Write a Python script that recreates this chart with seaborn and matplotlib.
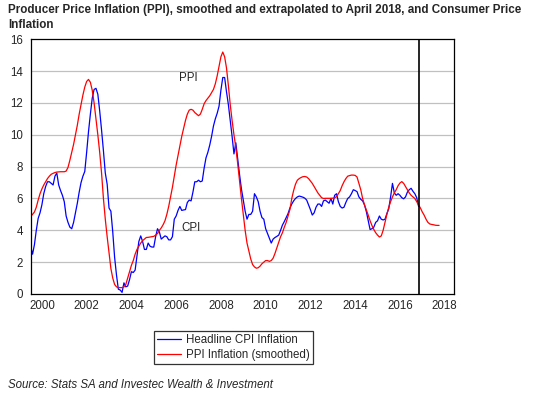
import numpy as np
import pandas as pd
import seaborn as sns
import matplotlib.pyplot as plt

# monthly headline CPI inflation (%), Jan 2000 onwards
cpi = [2.97, 2.5, 3.1, 4.0, 4.75, 5.1, 5.6, 6.3, 6.75, 7.05,
       7.05, 6.95, 6.85, 7.4, 7.6, 6.85, 6.5, 6.2, 5.8, 4.9,
       4.5, 4.2, 4.1, 4.5, 5.1, 5.7, 6.4, 7.0, 7.4, 7.7,
       8.9, 10.2, 11.3, 12.3,
       12.85, 12.92, 12.55, 11.5, 10.3, 9.0, 7.6, 6.9, 5.4, 5.2,
       3.9, 2.3, 1.2, 0.3, 0.25, 0.1, 0.7, 0.45, 0.5, 0.9,
       1.4, 1.35, 1.5, 2.4, 3.3, 3.65, 3.3, 2.8, 2.8, 3.2,
       3.0, 2.95, 2.95, 3.6, 4.1, 3.9, 3.45, 3.55, 3.65, 3.6,
       3.4, 3.4, 3.6, 4.7, 4.9, 5.25, 5.5, 5.25, 5.28, 5.3,
       5.75, 5.9, 5.85, 6.4, 7.05, 7.05, 7.15, 7.05, 7.1, 7.9,
       8.55, 8.9, 9.35, 9.9, 10.55, 11.0, 11.35, 11.8, 12.8, 13.6,
       13.6, 12.7, 11.9, 10.9, 9.9, 8.8, 9.5, 8.5, 7.5, 6.6,
       5.9, 5.2, 4.7, 5.0, 5.0, 5.2, 6.3,
       6.1, 5.8, 5.2, 4.8, 4.7, 4.1, 3.8, 3.5, 3.2, 3.45,
       3.55, 3.62, 3.7, 4.0, 4.33, 4.55, 4.8, 5.05, 5.4, 5.65,
       5.85, 6.0, 6.1, 6.15, 6.12, 6.08, 6.02, 5.9, 5.6, 5.3,
       4.96, 5.1, 5.45, 5.65, 5.65, 5.5, 5.85, 5.9, 5.8,
       5.7, 6.0, 5.65, 6.2, 6.3, 5.8, 5.5, 5.4, 5.45, 5.75,
       6.0, 6.1, 6.3, 6.55, 6.5, 6.43, 6.1, 5.95, 5.85, 5.6,
       5.17, 4.6, 4.05, 4.1, 4.2, 4.5, 4.6, 4.9, 4.7, 4.65, 4.7, 5.05, 5.35,
       6.1, 6.95, 6.35, 6.2, 6.3, 6.2, 6.05, 5.98, 6.1, 6.4, 6.55, 6.64, 6.45, 6.3, 6.05, 5.5]

# smoothed PPI inflation (%), Jan 2000 to Apr 2018
ppi = [4.86, 5.0, 5.15, 5.45, 5.9, 6.3, 6.6, 6.85, 7.05, 7.25,
       7.4, 7.52, 7.58, 7.63, 7.66, 7.67, 7.68, 7.68, 7.68, 7.72,
       7.95, 8.4, 8.9, 9.4, 10.0, 10.6, 11.3, 11.9, 12.5, 13.0,
       13.35, 13.48, 13.3, 12.8,
       12.0, 11.0, 10.0, 8.9, 7.6, 6.0, 4.7, 3.6, 2.6, 1.6,
       1.0, 0.6, 0.45, 0.4, 0.4, 0.4, 0.45, 0.6, 1.0, 1.4,
       1.8, 2.1, 2.5, 2.8, 3.0, 3.2, 3.35, 3.45, 3.55, 3.56,
       3.58, 3.6, 3.62, 3.7, 3.8, 4.0, 4.15, 4.35, 4.6, 5.0,
       5.5, 6.1, 6.7, 7.4, 8.1, 8.7, 9.3, 9.9, 10.4, 10.9,
       11.3, 11.55, 11.6, 11.55, 11.4, 11.3, 11.2, 11.3, 11.6, 11.95,
       12.15, 12.3, 12.45, 12.65, 12.85, 13.2, 13.7, 14.3, 14.9, 15.2,
       14.9, 14.2, 13.1, 11.9, 10.9, 10.0, 9.2, 8.2, 7.1, 6.0,
       5.0, 4.0, 3.2, 2.7, 2.2, 1.85, 1.7, 1.62, 1.65, 1.75,
       1.9, 2.0, 2.1, 2.1, 2.05, 2.1, 2.25, 2.55, 2.9, 3.25,
       3.6, 3.85, 4.2, 4.5, 4.9, 5.3, 6.0, 6.5, 6.9, 7.15,
       7.25, 7.32, 7.37, 7.38, 7.35, 7.25, 7.1, 6.95, 6.75, 6.55,
       6.35, 6.2, 6.05, 6.0, 6.01, 6.01, 6.01, 6.01, 6.02, 6.05,
       6.11, 6.3, 6.5, 6.8, 7.05, 7.25, 7.4, 7.44, 7.47, 7.47,
       7.45, 7.35, 6.95, 6.55, 6.0, 5.6, 5.28, 4.95, 4.6, 4.3,
       4.05, 3.85, 3.7, 3.58, 3.65, 4.0, 4.5, 5.0, 5.45, 5.8,
       6.1, 6.35, 6.55, 6.8, 6.97, 7.06, 6.95, 6.75, 6.55, 6.35,
       6.2, 6.1, 6.0, 5.8, 5.6, 5.4, 5.15, 4.95, 4.7, 4.5,
       4.4, 4.37, 4.35, 4.32, 4.31, 4.31]

year_labels = [str(y) for y in range(2000, 2019, 2)]
y_ticks = list(range(0, 17, 2))

start_year = 2000
cpi_years = start_year + np.arange(len(cpi)) / 12
ppi_years = start_year + np.arange(len(ppi)) / 12

df_cpi = pd.DataFrame({'year': cpi_years, 'value': cpi})
df_ppi = pd.DataFrame({'year': ppi_years, 'value': ppi})

sns.set_theme(style='white')
plt.rcParams['font.family'] = ['Liberation Sans', 'DejaVu Sans']

fig = plt.figure(figsize=(5.42, 3.97), dpi=100)
ax = fig.add_axes([30.7 / 542, 1 - 294 / 397, (454 - 30.7) / 542, (294 - 39.3) / 397])

sns.lineplot(data=df_cpi, x='year', y='value', ax=ax, color='#0000ff', lw=0.9,
             label='Headline CPI Inflation', legend=False)
sns.lineplot(data=df_ppi, x='year', y='value', ax=ax, color='#ff0000', lw=0.9,
             label='PPI Inflation (smoothed)', legend=False)

ax.axvline(cpi_years[-1], color='black', lw=1.2)

ax.set_xlim(2000, 2000 + 227 / 12)
ax.set_ylim(0, 16)
ax.set_yticks(y_ticks)
ax.set_yticklabels([str(v) for v in y_ticks])
for v in y_ticks[1:-1]:
    ax.axhline(v, color='#c0c0c0', lw=0.9, zorder=0)

# quarterly tick marks, year labels centred on mid-year
ax.set_xticks(np.arange(2000, 2019, 0.25))
ax.set_xticklabels([])
ax.set_xticks([int(y) + 0.5 for y in year_labels], minor=True)
ax.set_xticklabels(year_labels, minor=True)
ax.xaxis.remove_overlapping_locs = False
ax.tick_params(axis='x', which='major', direction='out', length=3.5, width=0.8, color='black')
ax.tick_params(axis='x', which='minor', length=0, pad=4, labelsize=8.3)
ax.tick_params(axis='y', direction='out', length=3.6, width=0.8, color='black', pad=2, labelsize=8.3)
ax.set_xlabel('')
ax.set_ylabel('')
for s in ax.spines.values():
    s.set_color('black')
    s.set_linewidth(0.9)

ax.text(2007.05, 13.57, 'PPI', ha='center', va='center', fontsize=8.3)
ax.text(2007.16, 4.16, 'CPI', ha='center', va='center', fontsize=8.3)

fig.text(8 / 542, 1 - 4 / 397,
         'Producer Price Inflation (PPI), smoothed and extrapolated to April 2018, and Consumer Price\nInflation',
         ha='left', va='top', fontsize=8.4, fontweight='bold', linespacing=1.3)

handles = ax.get_lines()[:2]
leg = fig.legend(handles, ['Headline CPI Inflation', 'PPI Inflation (smoothed)'],
                 loc='upper left', bbox_to_anchor=(154 / 542, 1 - 331 / 397),
                 fontsize=8.3, frameon=True, fancybox=False, handlelength=2.0,
                 handletextpad=0.5, labelspacing=0.2, borderpad=0.3, borderaxespad=0)
leg.get_frame().set_edgecolor('black')
leg.get_frame().set_linewidth(0.9)

fig.text(8 / 542, 1 - 385 / 397, 'Source: Stats SA and Investec Wealth & Investment',
         ha='left', va='center', fontsize=8.3, style='italic')

fig.savefig('out.png', dpi=100)
